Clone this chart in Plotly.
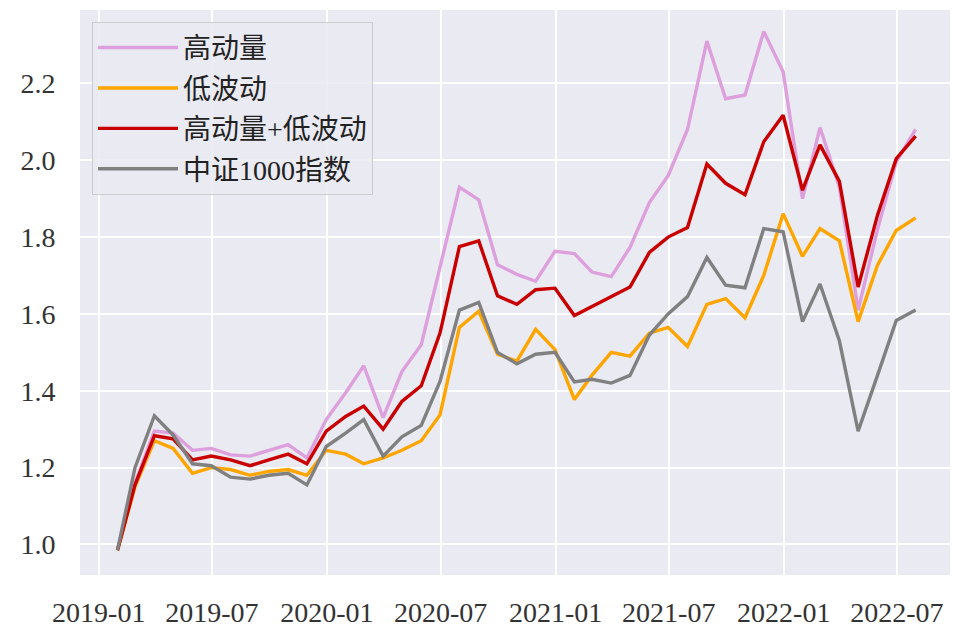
import pandas as pd
import plotly.graph_objects as go

dates = pd.date_range("2019-01-31", periods=43, freq="ME")

high_momentum = [0.985, 1.16, 1.295, 1.29, 1.245, 1.25, 1.233, 1.23, 1.245, 1.26, 1.225,
                 1.325, 1.395, 1.465, 1.33, 1.45, 1.52, 1.72, 1.93, 1.897, 1.728, 1.703,
                 1.685, 1.763, 1.757, 1.709, 1.697, 1.773, 1.89, 1.96, 2.08, 2.31, 2.16,
                 2.17, 2.335, 2.23, 1.90, 2.085, 1.93, 1.61, 1.82, 1.996, 2.08]
low_vol = [0.985, 1.15, 1.27, 1.25, 1.185, 1.20, 1.195, 1.18, 1.19, 1.195, 1.18,
           1.245, 1.235, 1.21, 1.225, 1.245, 1.27, 1.337, 1.565, 1.607, 1.495, 1.477,
           1.56, 1.507, 1.377, 1.44, 1.50, 1.49, 1.55, 1.565, 1.515, 1.625, 1.64,
           1.59, 1.70, 1.861, 1.75, 1.822, 1.79, 1.58, 1.727, 1.817, 1.85]
combo = [0.985, 1.155, 1.283, 1.275, 1.22, 1.23, 1.22, 1.205, 1.22, 1.235, 1.21,
         1.295, 1.333, 1.36, 1.30, 1.372, 1.413, 1.55, 1.775, 1.79, 1.647, 1.625,
         1.663, 1.667, 1.596, 1.62, 1.645, 1.67, 1.76, 1.80, 1.825, 1.99, 1.94,
         1.91, 2.048, 2.117, 1.922, 2.04, 1.945, 1.67, 1.857, 2.004, 2.063]
csi1000 = [0.985, 1.20, 1.335, 1.285, 1.21, 1.205, 1.175, 1.17, 1.18, 1.185, 1.155,
           1.255, 1.29, 1.325, 1.23, 1.28, 1.31, 1.424, 1.61, 1.63, 1.50, 1.47,
           1.495, 1.50, 1.423, 1.43, 1.42, 1.44, 1.545, 1.60, 1.645, 1.747, 1.675,
           1.668, 1.822, 1.814, 1.58, 1.678, 1.53, 1.295, 1.44, 1.583, 1.61]

names = ["高动量", "低波动", "高动量+低波动", "中证1000指数"]
colors = ["#DDA0DD", "#FFA500", "#C80000", "#808080"]
series = [high_momentum, low_vol, combo, csi1000]

fig = go.Figure()
for i, (nm, col, vals) in enumerate(zip(names, colors, series)):
    fig.add_trace(go.Scatter(x=dates, y=vals, mode="lines", name=nm,
                             legendgroup=f"g{i}",
                             line=dict(color=col, width=3.4)))

tick_font = dict(family="Liberation Serif, Noto Sans CJK SC", size=28, color="#333333")

fig.update_layout(
    width=957, height=633,
    margin=dict(l=80, r=7, t=10, b=58),
    paper_bgcolor="white",
    plot_bgcolor="#EAEAF2",
    showlegend=True,
    legend=dict(
        x=0.0138, y=0.979, xanchor="left", yanchor="top",
        bgcolor="rgba(234,234,242,0.85)",
        bordercolor="#CCCCCC", borderwidth=1,
        font=dict(family="Liberation Serif, Noto Sans CJK SC", size=28, color="#222222"),
        tracegroupgap=1,
        itemwidth=80,
    ),
    xaxis=dict(
        type="date",
        range=["2018-12-02", "2022-09-24"],
        tick0="2019-01-01", dtick="M6", tickformat="%Y-%m",
        showgrid=True, gridcolor="white", gridwidth=1.8,
        zeroline=False, showline=False, automargin=False,
        ticks="outside", ticklen=12, tickcolor="rgba(0,0,0,0)",
        tickfont=tick_font,
    ),
    yaxis=dict(
        range=[0.9205, 2.391],
        tick0=1.0, dtick=0.2, tickformat=".1f",
        showgrid=True, gridcolor="white", gridwidth=1.8,
        zeroline=False, showline=False, automargin=False,
        ticks="outside", ticklen=18, tickcolor="rgba(0,0,0,0)",
        tickfont=tick_font,
    ),
)

fig.write_html("out.html", config={"displayModeBar": False},
               post_script="document.body.style.margin='0';")
